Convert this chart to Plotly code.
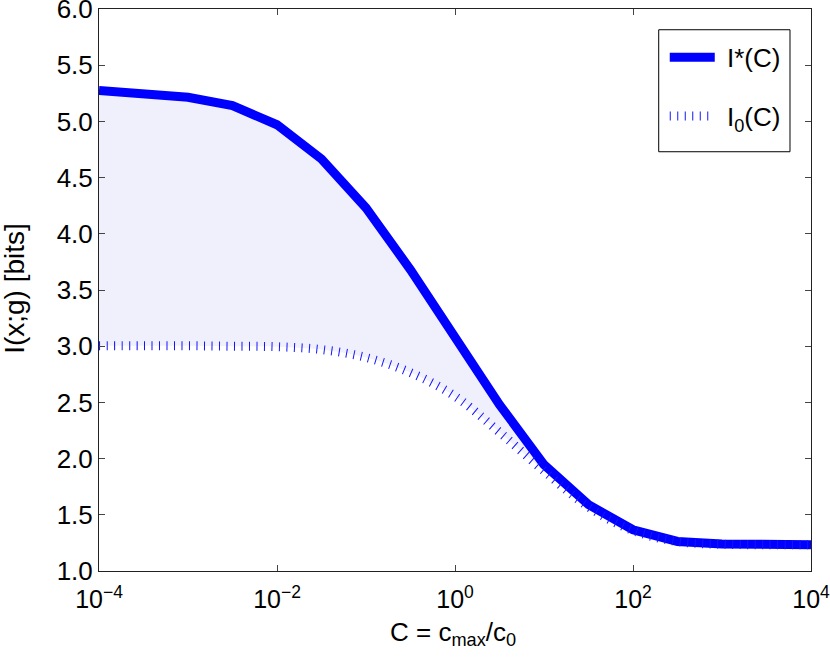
import plotly.graph_objects as go

# Data (x in C = c_max/c_0, log scale)
log_c = [-4, -3.5, -3, -2.5, -2, -1.5, -1, -0.5, 0, 0.5, 1, 1.5, 2, 2.5, 3, 3.5, 4]
i_star = [5.276, 5.24, 5.215, 5.14, 4.97, 4.665, 4.23, 3.68, 3.07, 2.48, 1.946, 1.59, 1.367, 1.263, 1.24, 1.235, 1.234]
i_zero = [3.005, 3.005, 3.004, 3.0, 2.995, 2.97, 2.90, 2.765, 2.555, 2.235, 1.89, 1.57, 1.36, 1.262, 1.238, 1.234, 1.233]

x_tick_vals = [1e-4, 1e-2, 1e0, 1e2, 1e4]
x_tick_text = ["10<sup>−4</sup>", "10<sup>−2</sup>", "10<sup>0</sup>", "10<sup>2</sup>", "10<sup>4</sup>"]
y_tick_vals = [1.0, 1.5, 2.0, 2.5, 3.0, 3.5, 4.0, 4.5, 5.0, 5.5, 6.0]

c_vals = [10 ** v for v in log_c]

BLUE = "rgb(0,0,255)"
FILL = "rgb(240,240,252)"
FONT = "Liberation Sans"
NARROW = "Liberation Sans Narrow, Liberation Sans"

fig = go.Figure()

# invisible lower boundary for the shaded area
fig.add_trace(go.Scatter(x=c_vals, y=i_zero, mode="lines",
                         line=dict(width=0, shape="spline", color=FILL),
                         showlegend=False, hoverinfo="skip"))
fig.add_trace(go.Scatter(x=c_vals, y=i_star, mode="lines", fill="tonexty",
                         fillcolor=FILL, line=dict(width=0, color=FILL),
                         showlegend=False, hoverinfo="skip"))

fig.add_trace(go.Scatter(x=c_vals, y=i_star, mode="lines", name="&nbsp;I*(C)",
                         line=dict(color=BLUE, width=9), legendgroup="a"))
fig.add_trace(go.Scatter(x=c_vals, y=i_zero, mode="lines", name="&nbsp;I<sub>0</sub>(C)",
                         line=dict(color="rgb(20,20,255)", width=9, dash="1px,6.5px", shape="spline"),
                         legendgroup="b"))

axis_common = dict(showline=True, linecolor="#222", linewidth=1, mirror="ticks",
                   ticks="inside", ticklen=6, tickcolor="#444", showgrid=False,
                   zeroline=False, automargin=False, ticklabeloverflow="allow")

fig.update_xaxes(type="log", range=[-4, 4], tickvals=x_tick_vals, ticktext=x_tick_text,
                 tickfont=dict(family=NARROW, size=25, color="black"), ticklabelstandoff=6,
                 **axis_common)
fig.update_yaxes(range=[1.0, 6.0], tickvals=y_tick_vals, tickformat=".1f",
                 tickfont=dict(family=FONT, size=26, color="black"),
                 **axis_common)

fig.add_annotation(text="C = c<sub>max</sub>/c<sub>0</sub>", xref="paper", yref="paper",
                   x=0.497, y=-0.079, xanchor="center", yanchor="top", showarrow=False,
                   font=dict(family=FONT, size=26, color="black"))
fig.add_annotation(text="I(x;g) [bits]", xref="paper", yref="paper",
                   x=-0.1186, y=0.503, xanchor="center", yanchor="middle", textangle=-90,
                   showarrow=False, font=dict(family=FONT, size=28, color="black"))

# legend frame
fig.add_shape(type="rect", xref="paper", yref="paper", x0=0.7861, x1=0.9705, y0=0.746, y1=0.9631,
              fillcolor="white", line=dict(color="black", width=1), layer="above")

fig.update_layout(
    width=830, height=668,
    margin=dict(l=99, r=19, t=9, b=97),
    plot_bgcolor="white", paper_bgcolor="white",
    font=dict(family=FONT, color="black"),
    legend=dict(x=0.7946, y=0.956, xanchor="left", yanchor="top",
                bgcolor="rgba(0,0,0,0)", borderwidth=0,
                font=dict(family=FONT, size=26, color="black"),
                tracegroupgap=22, itemwidth=45),
)

fig.write_html("out.html", config={"displayModeBar": False},
               post_script="document.body.style.margin='0px';")
